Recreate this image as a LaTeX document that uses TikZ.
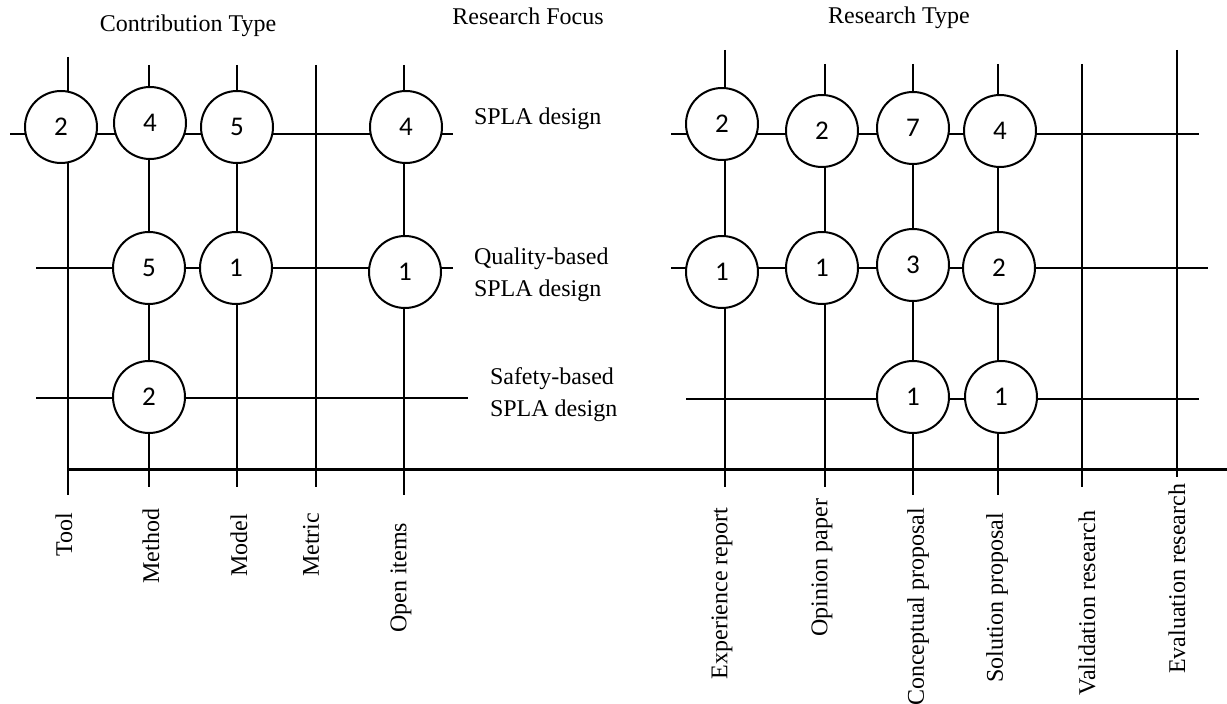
\documentclass[tikz,border=0pt]{standalone}
\usepackage{fontspec}
\setmainfont{Liberation Serif}
\newfontfamily\countfont{Carlito}
\usetikzlibrary{positioning}

\begin{document}
\begin{tikzpicture}[x=0.5pt, y=-0.5pt, line width=1pt,
    every node/.style={font=\fontsize{12}{16}\selectfont},
    count/.style={circle, draw, fill=white, minimum size=36pt, inner sep=0pt,
      font=\countfont\fontsize{13.5}{15}\selectfont},
    axislabel/.style={rotate=90, anchor=east, inner sep=0pt},
    heading/.style={anchor=base, inner sep=0pt},
    focus/.style={align=left, inner sep=0pt}]
      \useasboundingbox (0,0) rectangle (1227,704);

      % Headings
      \node[heading] (contrib) at (188,32) {Contribution Type};
      \node[heading] (focus) at (528,25) {Research Focus};
      \node[heading] (restype) at (899,24) {Research Type};

      % Grid ends
      \coordinate (tool-t) at (68,57);    \coordinate (tool-b) at (68,495);
      \coordinate (meth-t) at (149,65);   \coordinate (meth-b) at (149,487);
      \coordinate (model-t) at (237,65);  \coordinate (model-b) at (237,487);
      \coordinate (metric-t) at (316,65); \coordinate (metric-b) at (316,487);
      \coordinate (open-t) at (404,65);   \coordinate (open-b) at (404,495);
      \coordinate (exp-t) at (725,50);    \coordinate (exp-b) at (725,487);
      \coordinate (opin-t) at (825,64);   \coordinate (opin-b) at (825,487);
      \coordinate (conc-t) at (913,64);   \coordinate (conc-b) at (913,495);
      \coordinate (sol-t) at (998,64);    \coordinate (sol-b) at (998,495);
      \coordinate (valid-t) at (1082,64); \coordinate (valid-b) at (1082,487);
      \coordinate (eval-t) at (1177,50);  \coordinate (eval-b) at (1177,477);

      \coordinate (lrow1-w) at (10,134);  \coordinate (lrow1-e) at (453,134);
      \coordinate (lrow2-w) at (36,268);  \coordinate (lrow2-e) at (453,268);
      \coordinate (lrow3-w) at (36,398);  \coordinate (lrow3-e) at (468,398);
      \coordinate (rrow1-w) at (671,134); \coordinate (rrow1-e) at (1199,134);
      \coordinate (rrow2-w) at (671,268); \coordinate (rrow2-e) at (1208,268);
      \coordinate (rrow3-w) at (686,399); \coordinate (rrow3-e) at (1199,399);
      \coordinate (axis-w) at (68,470);   \coordinate (axis-e) at (1227,470);

      % Grid lines
      \draw (tool-t) -- (tool-b);  \draw (meth-t) -- (meth-b);
      \draw (model-t) -- (model-b); \draw (metric-t) -- (metric-b);
      \draw (open-t) -- (open-b);
      \draw (exp-t) -- (exp-b);    \draw (opin-t) -- (opin-b);
      \draw (conc-t) -- (conc-b);  \draw (sol-t) -- (sol-b);
      \draw (valid-t) -- (valid-b); \draw (eval-t) -- (eval-b);
      \draw (lrow1-w) -- (lrow1-e); \draw (lrow2-w) -- (lrow2-e);
      \draw (lrow3-w) -- (lrow3-e);
      \draw (rrow1-w) -- (rrow1-e); \draw (rrow2-w) -- (rrow2-e);
      \draw (rrow3-w) -- (rrow3-e);
      \draw[line width=1.5pt] (axis-w) -- (axis-e);

      % Counts, contribution type
      \node[count] (c11) at (61,127) {2};
      \node[count] (c12) at (150,123) {4};
      \node[count] (c13) at (237,127) {5};
      \node[count] (c15) at (406,127) {4};
      \node[count] (c22) at (149,268) {5};
      \node[count] (c23) at (236,268) {1};
      \node[count] (c25) at (405,272) {1};
      \node[count] (c32) at (149,397) {2};

      % Counts, research type
      \node[count] (r11) at (722,124) {2};
      \node[count] (r12) at (822,131) {2};
      \node[count] (r13) at (913,128) {7};
      \node[count] (r14) at (1000,131) {4};
      \node[count] (r21) at (722,272) {1};
      \node[count] (r22) at (822,268) {1};
      \node[count] (r23) at (913,265) {3};
      \node[count] (r24) at (999,268) {2};
      \node[count] (r33) at (913,397) {1};
      \node[count] (r34) at (1001,397) {1};

      % Research focus
      \node[focus, anchor=base west] (splad) at (473,125) {SPLA design};
      \node[focus, anchor=north west] (quality) at (473,247) {Quality-based\\SPLA design};
      \node[focus, anchor=north west] (safety) at (489,367) {Safety-based\\SPLA design};

      % Axis labels
      \node[axislabel] (tool) at (64,512) {Tool};
      \node[axislabel] (meth) at (151,508) {Method};
      \node[axislabel] (model) at (239,513) {Model};
      \node[axislabel] (metric) at (311,512) {Metric};
      \node[axislabel] (open) at (401,522) {Open items};
      \node[axislabel] (exp) at (722,507) {Experience report};
      \node[axislabel] (opin) at (822,498) {Opinion paper};
      \node[axislabel] (conc) at (918,507) {Conceptual proposal};
      \node[axislabel] (sol) at (997,512) {Solution proposal};
      \node[axislabel] (valid) at (1087,510) {Validation research};
      \node[axislabel] (eval) at (1177,483) {Evaluation research};

    \end{tikzpicture}
\end{document}
